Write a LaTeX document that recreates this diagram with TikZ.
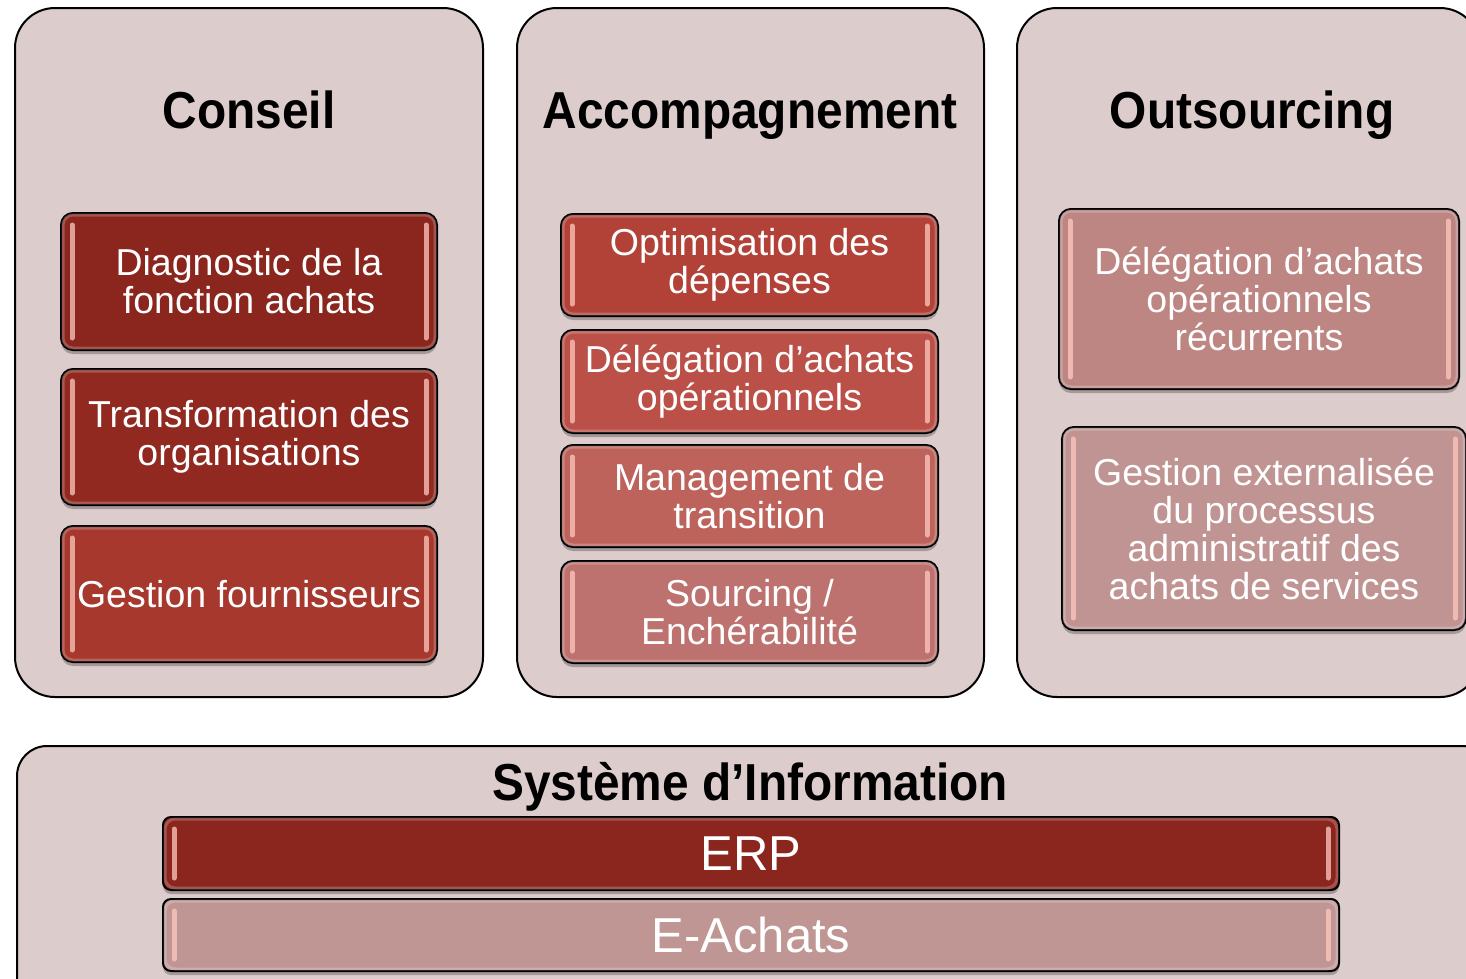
\documentclass[tikz,border=0pt]{standalone}
\usepackage{fontspec}
\setmainfont{Liberation Sans}
\newfontfamily\titlefont[FakeStretch=0.92]{Liberation Sans}
\usetikzlibrary{shadows}
\definecolor{panelc}{RGB}{221,204,204}
\definecolor{cA}{RGB}{139,38,30}
\definecolor{cB}{RGB}{145,41,32}
\definecolor{cC}{RGB}{166,56,46}
\definecolor{aA}{RGB}{178,66,56}
\definecolor{aB}{RGB}{186,80,71}
\definecolor{aC}{RGB}{189,99,92}
\definecolor{aD}{RGB}{189,114,111}
\definecolor{oA}{RGB}{189,134,131}
\definecolor{oB}{RGB}{192,148,147}
\definecolor{eA}{RGB}{192,150,148}
\definecolor{hlc}{RGB}{255,200,190}
\begin{document}
\begin{tikzpicture}[x=1pt,y=-1pt,
  panel/.style={draw=black,line width=2pt,fill=panelc,rounded corners=40pt},
  itembox/.style={draw=black,line width=2pt,rounded corners=12pt,text=white,align=center,
    font=\fontsize{37.5}{38}\selectfont,inner sep=0pt,
    drop shadow={shadow xshift=0pt,shadow yshift=-4pt,opacity=0.25,fill=black}},
  barbox/.style={itembox,rounded corners=8pt,font=\fontsize{49}{50}\selectfont},
  title/.style={font=\titlefont\bfseries\fontsize{52}{60}\selectfont,anchor=base},
  hl/.style={draw=hlc,draw opacity=0.75,line width=5pt,line cap=round},
  rim/.style={draw=white,draw opacity=0.22,line width=3pt},
]
\clip (0,0) rectangle (1466,978);
\fill[white] (0,0) rectangle (1466,978);

% panels
\draw[panel] (15,8) rectangle (483,697);
\draw[panel] (517,8) rectangle (984,697);
\draw[panel] (1017,8) rectangle (1480,697);
\draw[panel,rounded corners=30pt] (17,746) rectangle (1492,1010);

% titles
\node[title] (t1) at (249,128) {Conseil};
\node[title] (t2) at (750,128) {Accompagnement};
\node[title] (t3) at (1252,128) {Outsourcing};
\node[title] (t4) at (750,800) {Système d’Information};

% Conseil
\node[itembox,fill=cA,minimum width=376pt,minimum height=137pt] (c1) at (249,281.5) {Diagnostic de la\\fonction achats};
\node[itembox,fill=cB,minimum width=376pt,minimum height=136pt] (c2) at (249,437) {Transformation des\\organisations};
\node[itembox,fill=cC,minimum width=376pt,minimum height=136pt] (c3) at (249,594) {Gestion fournisseurs};

% Accompagnement
\node[itembox,fill=aA,minimum width=377pt,minimum height=102pt] (a1) at (749.5,265) {Optimisation des\\dépenses};
\node[itembox,fill=aB,minimum width=377pt,minimum height=103pt] (a2) at (749.5,381.5) {Délégation d’achats\\opérationnels};
\node[itembox,fill=aC,minimum width=377pt,minimum height=102pt] (a3) at (749.5,496) {Management de\\transition};
\node[itembox,fill=aD,minimum width=377pt,minimum height=102pt] (a4) at (749.5,612) {Sourcing /\\Enchérabilité};

% Outsourcing
\node[itembox,fill=oA,minimum width=400pt,minimum height=180pt] (o1) at (1259,299) {Délégation d’achats\\opérationnels\\récurrents};
\node[itembox,fill=oB,minimum width=404pt,minimum height=203pt] (o2) at (1264,528.5) {Gestion externalisée\\du processus\\administratif des\\achats de services};

% Systeme d'information
\node[barbox,fill=cA,minimum width=1176pt,minimum height=73pt] (erp) at (751,853.5) {ERP};
\node[barbox,fill=eA,minimum width=1176pt,minimum height=72pt] (ea) at (751,935) {E-Achats};

% glossy rims and highlights
\foreach \n in {c1,c2,c3,a1,a2,a3,a4,o1,o2,erp,ea} {
  \draw[rim,rounded corners=10pt] ([xshift=3pt,yshift=-3pt]\n.north west) rectangle ([xshift=-3pt,yshift=3pt]\n.south east);
  \draw[hl] ([xshift=12pt,yshift=-13pt]\n.north west) -- ([xshift=12pt,yshift=13pt]\n.south west);
  \draw[hl] ([xshift=-12pt,yshift=-13pt]\n.north east) -- ([xshift=-12pt,yshift=13pt]\n.south east);
}
\end{tikzpicture}
\end{document}
